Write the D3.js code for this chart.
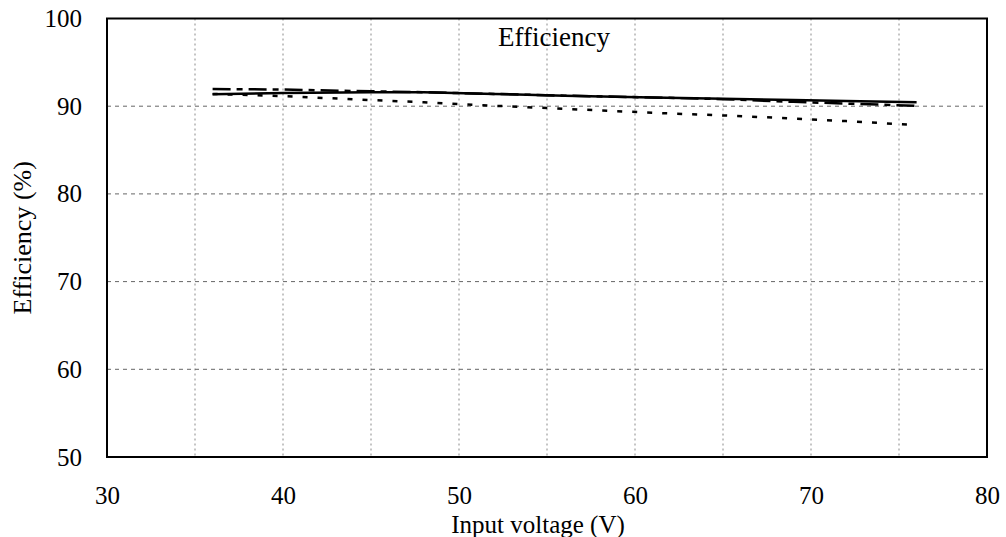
<!DOCTYPE html>
<html>
<head>
<meta charset="utf-8">
<script src="https://cdn.jsdelivr.net/npm/d3@7"></script>
<style>
  body { margin: 0; background: #fff; }
  svg { display: block; }
</style>
</head>
<body>
<svg id="chart"></svg>
<script>
// input voltage points (V)
const voltages = [36, 40, 45, 48, 52, 56, 61, 65, 69, 72, 76];
// three efficiency curves (%)
const effSolid   = [91.35, 91.5, 91.6, 91.58, 91.4, 91.2, 91.0, 90.85, 90.7, 90.6, 90.45];
const effDashDot = [91.95, 91.9, 91.7, 91.6, 91.4, 91.2, 91.0, 90.8, 90.5, 90.3, 90.05];
const effDotted  = [91.4, 91.15, 90.7, 90.45, 90.05, 89.7, 89.25, 88.95, 88.6, 88.3, 87.85];

const xTicks = [30, 40, 50, 60, 70, 80];
const xGrid = [35, 40, 45, 50, 55, 60, 65, 70, 75];
const yTicks = [50, 60, 70, 80, 90, 100];

const W = 1006, H = 537;
const margin = { top: 18.5, right: 19, bottom: 80, left: 107 };
const width = W - margin.left - margin.right;
const height = H - margin.top - margin.bottom;

const svg = d3.select('#chart')
  .attr('width', W)
  .attr('height', H);

const g = svg.append('g')
  .attr('transform', `translate(${margin.left},${margin.top})`);

const x = d3.scaleLinear().domain([30, 80]).range([0, width]);
const y = d3.scaleLinear().domain([50, 100]).range([height, 0]);

const font = '"Liberation Serif", "Times New Roman", serif';

// grid
g.selectAll('.vgrid')
  .data(xGrid)
  .enter()
  .append('line')
  .attr('x1', d => x(d)).attr('x2', d => x(d))
  .attr('y1', 0).attr('y2', height)
  .attr('stroke', '#8a8a8a')
  .attr('stroke-width', 1)
  .attr('stroke-dasharray', '2,3');

g.selectAll('.hgrid')
  .data(yTicks.filter(d => d > 50 && d < 100))
  .enter()
  .append('line')
  .attr('x1', 0).attr('x2', width)
  .attr('y1', d => y(d)).attr('y2', d => y(d))
  .attr('stroke', '#666')
  .attr('stroke-width', 1)
  .attr('stroke-dasharray', '4,4');

// curves
const line = d3.line()
  .x((d, i) => x(voltages[i]))
  .y(d => y(d));

const series = [
  { values: effDotted, dash: '5,10', w: 2.5 },
  { values: effDashDot, dash: '18,6,6,6', w: 2.5 },
  { values: effSolid, dash: null, w: 2.5 }
];

series.forEach(s => {
  g.append('path')
    .datum(s.values)
    .attr('d', line)
    .attr('fill', 'none')
    .attr('stroke', '#000')
    .attr('stroke-width', s.w)
    .attr('stroke-dasharray', s.dash);
});

// frame
g.append('rect')
  .attr('x', 0).attr('y', 0)
  .attr('width', width).attr('height', height)
  .attr('fill', 'none')
  .attr('stroke', '#000')
  .attr('stroke-width', 2);

// tick labels
const xAxis = g.append('g')
  .attr('transform', `translate(0,${height})`)
  .call(d3.axisBottom(x).tickValues(xTicks).tickSize(0).tickPadding(29));
const yAxis = g.append('g')
  .call(d3.axisLeft(y).tickValues(yTicks).tickSize(0).tickPadding(25));

[xAxis, yAxis].forEach(a => {
  a.select('.domain').remove();
  a.selectAll('text')
    .style('font-family', font)
    .style('font-size', '25px')
    .attr('fill', '#000');
});

// title inside plot
g.append('text')
  .attr('x', x(55.4))
  .attr('y', 27)
  .attr('text-anchor', 'middle')
  .style('font-family', font)
  .style('font-size', '27px')
  .text('Efficiency');

// axis labels
svg.append('text')
  .attr('x', 538)
  .attr('y', 533)
  .attr('text-anchor', 'middle')
  .style('font-family', font)
  .style('font-size', '25px')
  .text('Input voltage (V)');

svg.append('text')
  .attr('transform', `translate(31,${margin.top + height / 2}) rotate(-90)`)
  .attr('text-anchor', 'middle')
  .style('font-family', font)
  .style('font-size', '26px')
  .text('Efficiency (%)');
</script>
</body>
</html>
